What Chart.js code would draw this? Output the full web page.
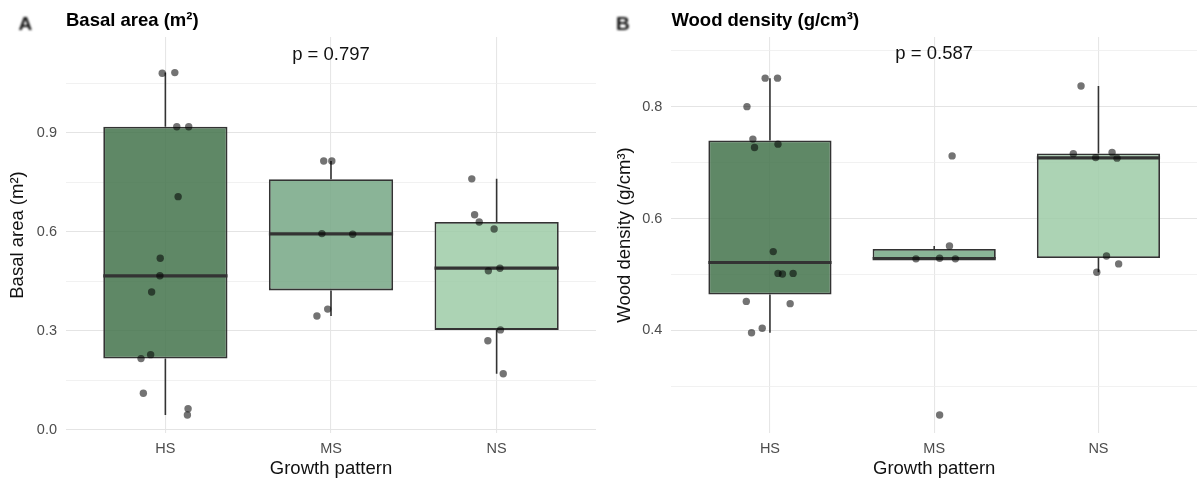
<!DOCTYPE html>
<html>
<head>
<meta charset="utf-8">
<script src="https://cdn.jsdelivr.net/npm/chart.js@4.4.1/dist/chart.umd.min.js"></script>
<style>
  html, body { margin: 0; padding: 0; background: #fff; }
  #wrap { position: relative; width: 1201px; height: 479px; }
  .panel { position: absolute; top: 0; height: 479px; }
  #panelA { left: 0; width: 600px; }
  #panelB { left: 600px; width: 601px; }
</style>
</head>
<body>
<div id="wrap">
  <div class="panel" id="panelA"><canvas id="basalChart" width="600" height="479"></canvas></div>
  <div class="panel" id="panelB"><canvas id="densityChart" width="601" height="479"></canvas></div>
</div>
<script>
const groups = ['HS', 'MS', 'NS'];

// Basal area (m²), one value per tree
const basalHS = [1.081, 1.083, 0.919, 0.919, 0.707, 0.520, 0.467, 0.418, 0.228, 0.216, 0.111, 0.064, 0.045];
const basalMS = [0.815, 0.815, 0.595, 0.593, 0.366, 0.345];
const basalNS = [0.761, 0.652, 0.630, 0.609, 0.490, 0.482, 0.303, 0.270, 0.170];
// horizontal jitter of each dot (category units)
const basalHSJitter = [-0.019, 0.057, 0.069, 0.141, 0.077, -0.031, -0.033, -0.083, -0.089, -0.147, -0.133, 0.137, 0.133];
const basalMSJitter = [-0.044, 0.005, -0.055, 0.131, -0.020, -0.085];
const basalNSJitter = [-0.150, -0.133, -0.105, -0.015, 0.020, -0.050, 0.023, -0.053, 0.040];

// Wood density (g/cm³)
const densityHS = [0.851, 0.851, 0.800, 0.742, 0.727, 0.733, 0.541, 0.502, 0.501, 0.502, 0.452, 0.448, 0.404, 0.396];
const densityMS = [0.712, 0.551, 0.528, 0.529, 0.528, 0.249];
const densityNS = [0.837, 0.716, 0.709, 0.718, 0.708, 0.533, 0.519, 0.504];
const densityHSJitter = [-0.029, 0.046, -0.140, -0.104, -0.094, 0.049, 0.020, 0.049, 0.076, 0.141, -0.144, 0.123, -0.047, -0.112];
const densityMSJitter = [0.109, 0.093, -0.111, 0.033, 0.129, 0.033];
const densityNSJitter = [-0.106, -0.153, -0.017, 0.083, 0.113, 0.049, 0.123, -0.010];

const basalTicks = [0, 0.3, 0.6, 0.9];
const basalMinorTicks = [0.15, 0.45, 0.75, 1.05];
const densityTicks = [0.4, 0.6, 0.8];
const densityMinorTicks = [0.3, 0.5, 0.7, 0.9];

const basalPText = 'p = 0.797';
const densityPText = 'p = 0.587';
const basalPY = 1.137;
const densityPY = 0.8935;

const FONT = '"Liberation Sans", Arial, Helvetica, sans-serif';
const boxFills = ['rgba(67,115,75,0.85)', 'rgba(117,167,133,0.85)', 'rgba(157,203,167,0.85)'];
const BOX_WIDTH = 0.75; // in category units, like geom_boxplot

// type 7 quantile, same as R's default
function quantile(sorted, p) {
  const pos = (sorted.length - 1) * p;
  const lo = Math.floor(pos);
  const hi = Math.ceil(pos);
  return sorted[lo] + (sorted[hi] - sorted[lo]) * (pos - lo);
}

function boxStats(values) {
  const s = [...values].sort((a, b) => a - b);
  const q1 = quantile(s, 0.25), med = quantile(s, 0.5), q3 = quantile(s, 0.75);
  const iqr = q3 - q1;
  const inside = s.filter(v => v >= q1 - 1.5 * iqr && v <= q3 + 1.5 * iqr);
  return { q1, med, q3, lo: inside[0], hi: inside[inside.length - 1] };
}

// panel letter, title and p value
const panelText = {
  id: 'panelText',
  afterDraw(chart, args, opts) {
    const { ctx, chartArea, scales } = chart;
    ctx.save();
    ctx.textBaseline = 'alphabetic';
    ctx.textAlign = 'left';
    ctx.filter = 'blur(0.9px)';
    ctx.fillStyle = '#111';
    ctx.font = 'bold 19px ' + FONT;
    ctx.fillText(opts.letter, opts.letterX, 29.5);
    ctx.filter = 'none';
    ctx.fillStyle = '#000';
    ctx.font = 'bold 18.5px ' + FONT;
    ctx.fillText(opts.title, chartArea.left, 25.5);
    ctx.font = '18.5px ' + FONT;
    ctx.fillStyle = '#111';
    ctx.textAlign = 'center';
    ctx.textBaseline = 'middle';
    ctx.fillText(opts.pText, scales.x.getPixelForValue(2), scales.y.getPixelForValue(opts.pY));
    ctx.restore();
  }
};

function makePanel(canvasId, cfg) {
  const stats = cfg.values.map(boxStats);
  const boxes = stats.map((s, i) => ({ x: i + 1, y: [s.q1, s.q3] }));
  const medians = stats.map((s, i) => ({ x: i + 1, y: s.med }));

  const whiskers = [];
  stats.forEach((s, i) => {
    whiskers.push({ x: i + 1, y: s.lo }, { x: i + 1, y: s.q1 }, { x: i + 1, y: null });
    whiskers.push({ x: i + 1, y: s.q3 }, { x: i + 1, y: s.hi }, { x: i + 1, y: null });
  });

  const dots = [];
  cfg.values.forEach((vals, i) => {
    vals.forEach((v, j) => dots.push({ x: i + 1 + cfg.jitter[i][j], y: v }));
  });

  // median bar spans the box width, taken from the x scale
  const halfBox = c => {
    const x = c.chart.scales.x;
    return Math.abs(x.getPixelForValue(1 + BOX_WIDTH / 2) - x.getPixelForValue(1));
  };

  return new Chart(document.getElementById(canvasId), {
    type: 'bar',
    data: {
      datasets: [
        {
          type: 'bar',
          data: boxes,
          backgroundColor: boxFills,
          borderColor: '#333333',
          borderWidth: 1.8,
          borderSkipped: false,
          grouped: false,
          barPercentage: BOX_WIDTH,
          categoryPercentage: 1,
          order: 2
        },
        {
          type: 'scatter',
          data: medians,
          pointStyle: 'line',
          pointRadius: halfBox,
          pointBorderWidth: 3.2,
          pointBorderColor: '#333333',
          order: 1
        },
        {
          type: 'line',
          data: whiskers,
          borderColor: '#333333',
          borderWidth: 1.6,
          pointRadius: 0,
          spanGaps: false,
          fill: false,
          order: 3
        },
        {
          type: 'scatter',
          data: dots,
          pointRadius: 3.7,
          pointBorderWidth: 0,
          backgroundColor: 'rgba(0,0,0,0.55)',
          order: 0
        }
      ]
    },
    plugins: [panelText],
    options: {
      responsive: false,
      animation: false,
      devicePixelRatio: 1,
      layout: { padding: { top: 37, right: cfg.padRight, bottom: 0, left: 0 } },
      plugins: {
        legend: { display: false },
        tooltip: { enabled: false },
        panelText: { letter: cfg.letter, letterX: cfg.letterX, title: cfg.title, pText: cfg.pText, pY: cfg.pY }
      },
      scales: {
        x: {
          type: 'linear',
          min: 0.4,
          max: 3.6,
          offset: false,
          afterBuildTicks: s => { s.ticks = groups.map((g, i) => ({ value: i + 1 })); },
          afterFit: s => { s.height = 46; },
          ticks: {
            callback: (v, i) => groups[i],
            color: '#4d4d4d',
            font: { size: 14.5, family: FONT },
            padding: 7,
            autoSkip: false,
            maxRotation: 0
          },
          grid: { color: '#e6e6e6', lineWidth: 1.1, drawTicks: false, offset: false },
          border: { display: false },
          title: {
            display: true,
            text: 'Growth pattern',
            color: '#111',
            font: { size: 18.5, family: FONT },
            padding: { top: 0, bottom: -1.5 }
          }
        },
        y: {
          type: 'linear',
          min: cfg.yMin,
          max: cfg.yMax,
          afterBuildTicks: s => {
            const t = cfg.major.map(v => ({ value: v, isMajor: true }))
              .concat(cfg.minor.map(v => ({ value: v, isMajor: false })));
            s.ticks = t.sort((a, b) => a.value - b.value);
          },
          afterFit: s => { s.width = cfg.axisWidth; },
          ticks: {
            callback: (v, i, ticks) => (ticks[i].isMajor ? v.toFixed(1) : ''),
            color: '#4d4d4d',
            font: { size: 14.5, family: FONT },
            padding: 9,
            autoSkip: false
          },
          grid: {
            color: c => (c.tick && c.tick.isMajor ? '#e4e4e4' : '#eeeeee'),
            lineWidth: c => (c.tick && c.tick.isMajor ? 1.1 : 0.8),
            drawTicks: false
          },
          border: { display: false },
          title: {
            display: true,
            text: cfg.yTitle,
            color: '#111',
            font: { size: 18.5, family: FONT },
            padding: { top: cfg.yTitlePad, bottom: 0 }
          }
        }
      }
    }
  });
}

makePanel('basalChart', {
  values: [basalHS, basalMS, basalNS],
  jitter: [basalHSJitter, basalMSJitter, basalNSJitter],
  major: basalTicks,
  minor: basalMinorTicks,
  yMin: -0.0096,
  yMax: 1.191,
  axisWidth: 66,
  padRight: 0,
  yTitle: 'Basal area (m²)',
  yTitlePad: 6.8,
  letter: 'A',
  letterX: 18.5,
  title: 'Basal area (m²)',
  pText: basalPText,
  pY: basalPY
});

makePanel('densityChart', {
  values: [densityHS, densityMS, densityNS],
  jitter: [densityHSJitter, densityMSJitter, densityNSJitter],
  major: densityTicks,
  minor: densityMinorTicks,
  yMin: 0.2168,
  yMax: 0.9245,
  axisWidth: 71.4,
  padRight: 1,
  yTitle: 'Wood density (g/cm³)',
  yTitlePad: 13.5,
  letter: 'B',
  letterX: 16,
  title: 'Wood density (g/cm³)',
  pText: densityPText,
  pY: densityPY
});
</script>
</body>
</html>
